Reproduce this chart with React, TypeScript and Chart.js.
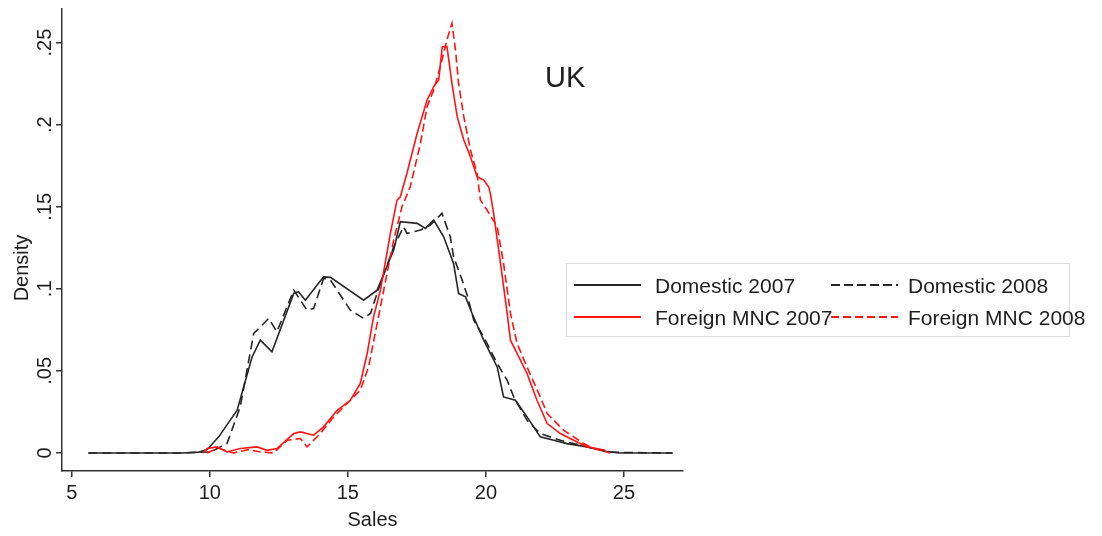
import React, { useEffect, useRef } from 'react';
import { Chart, registerables } from 'chart.js';

Chart.register(...registerables);

// ---------- data ----------
const X_TICKS = [5, 10, 15, 20, 25];
const Y_TICKS = [0, 0.05, 0.1, 0.15, 0.2, 0.25];
const Y_TICK_LABELS = ['0', '.05', '.1', '.15', '.2', '.25'];
const X_MIN = 4.645;
const X_MAX = 27.14;
const Y_MIN = -0.011;
const Y_MAX = 0.2705;

const SERIES_NAMES = ['Domestic 2007', 'Domestic 2008', 'Foreign MNC 2007', 'Foreign MNC 2008'];
const X_TITLE = 'Sales';
const Y_TITLE = 'Density';
const PANEL_TITLE = 'UK';

const DOM07_X = [5.6, 7, 8, 9, 9.6, 9.9, 10.32, 10.99, 11.53, 11.83, 12.25, 13.04, 13.21, 13.46, 14.12, 14.37, 15.57, 16.06, 16.66, 16.9, 17.51, 17.81, 18.11, 18.47, 18.83, 19.01, 19.26, 19.5, 19.92, 20.41, 20.64, 21.07, 21.49, 21.97, 22.46, 22.94, 23.67, 24.33, 24.87, 26.76];
const DOM07_Y = [0, 0, 0, 0, 0.0005, 0.002, 0.0098, 0.026, 0.0585, 0.0687, 0.0616, 0.0972, 0.0982, 0.0931, 0.1073, 0.107, 0.0931, 0.0992, 0.1236, 0.1409, 0.1399, 0.1368, 0.1419, 0.1317, 0.1155, 0.0972, 0.0951, 0.085, 0.0687, 0.0524, 0.0341, 0.0321, 0.022, 0.0098, 0.0077, 0.0057, 0.0037, 0.001, 0, 0];

const DOM08_X = [5.6, 7, 8, 9, 10.02, 10.62, 11.1, 11.59, 11.83, 12.13, 12.43, 13.04, 13.52, 13.76, 14.12, 14.37, 15.09, 15.57, 15.82, 16.18, 16.66, 17.02, 17.14, 17.63, 17.99, 18.41, 18.71, 18.83, 19.14, 19.32, 19.56, 19.92, 20.41, 20.77, 21.01, 21.49, 21.97, 22.7, 23.42, 23.91, 24.5, 26.76];
const DOM08_Y = [0, 0, 0, 0, 0.0006, 0.0057, 0.028, 0.0728, 0.0768, 0.082, 0.0738, 0.0992, 0.087, 0.088, 0.1063, 0.1053, 0.087, 0.082, 0.085, 0.1033, 0.1256, 0.1378, 0.1338, 0.1358, 0.1388, 0.146, 0.1317, 0.1195, 0.1053, 0.0962, 0.0809, 0.0707, 0.0545, 0.0443, 0.0341, 0.0199, 0.0118, 0.0077, 0.0047, 0.0027, 0.0004, 0];

const FOR07_X = [9.75, 9.9, 10.26, 10.62, 11.1, 11.71, 12.07, 12.43, 13.04, 13.28, 13.76, 14.12, 14.61, 15.09, 15.45, 15.7, 15.93, 16.18, 16.54, 16.78, 16.9, 17.14, 17.51, 17.87, 18.11, 18.29, 18.42, 18.59, 18.77, 18.96, 19.2, 19.44, 19.68, 19.92, 20.1, 20.16, 20.28, 20.53, 20.77, 20.89, 21.07, 21.49, 21.85, 22.22, 22.7, 23.18, 23.67, 24.33];
const FOR07_Y = [0, 0.0027, 0.0037, 0.0006, 0.0027, 0.0037, 0.0016, 0.0027, 0.0118, 0.0128, 0.0108, 0.0159, 0.026, 0.0321, 0.0423, 0.0606, 0.0829, 0.0992, 0.1338, 0.154, 0.156, 0.1704, 0.1948, 0.2151, 0.2232, 0.2273, 0.2476, 0.2476, 0.2252, 0.2049, 0.1907, 0.1805, 0.1683, 0.1663, 0.1622, 0.1582, 0.146, 0.1155, 0.085, 0.0687, 0.0626, 0.0484, 0.0321, 0.0179, 0.0118, 0.0077, 0.0037, 0.0016];

const FOR08_X = [9.9, 10.3, 10.86, 11.4, 11.83, 12.31, 12.8, 13.28, 13.52, 14.0, 14.49, 14.97, 15.45, 15.75, 15.99, 16.3, 16.66, 16.96, 17.26, 17.63, 17.87, 18.11, 18.35, 18.59, 18.77, 18.9, 19.01, 19.2, 19.44, 19.68, 19.8, 20.04, 20.41, 20.64, 20.89, 21.13, 21.49, 21.97, 22.22, 22.46, 22.82, 23.18, 23.54, 23.91, 24.5];
const FOR08_Y = [0, 0.003, 0, 0.002, 0.0006, 0, 0.0077, 0.0088, 0.0037, 0.0118, 0.022, 0.0301, 0.0382, 0.0524, 0.0728, 0.0992, 0.1297, 0.15, 0.1622, 0.1887, 0.211, 0.2212, 0.2354, 0.2517, 0.2618, 0.2455, 0.2252, 0.2049, 0.1846, 0.1704, 0.1541, 0.148, 0.1378, 0.1155, 0.085, 0.0667, 0.0524, 0.0341, 0.024, 0.0199, 0.0138, 0.0098, 0.0057, 0.0027, 0];

// ---------- style ----------
const FONT = '"Liberation Sans", Arial, sans-serif';
const TEXT = '#1e1e1e';
const AXIS = '#333333';
const BLACK = '#262626';
const RED = '#ff1414';
const BLACK_DASH = [9, 5];
const RED_DASH = [8, 4];

const toPts = (xs: number[], ys: number[]) => xs.map((x, i) => ({ x, y: ys[i] }));

export default function App() {
  const ref = useRef<HTMLCanvasElement>(null);

  useEffect(() => {
    const canvas = ref.current!;
    const yLabelPlugin = {
      id: 'yLabels',
      afterDraw(chart: any) {
        const c = chart.ctx;
        const ys = chart.scales.y;
        const area = chart.chartArea;
        c.save();
        c.fillStyle = TEXT;
        c.font = `20px ${FONT}`;
        c.textAlign = 'center';
        c.textBaseline = 'middle';
        Y_TICKS.forEach((v, i) => {
          const py = ys.getPixelForValue(v);
          c.save();
          c.translate(ys.right - 17, py);
          c.rotate(-Math.PI / 2);
          c.fillText(Y_TICK_LABELS[i], 0, 0);
          c.restore();
        });
        c.save();
        c.translate(ys.left + 22, (area.top + area.bottom) / 2 + 28);
        c.rotate(-Math.PI / 2);
        c.fillText(Y_TITLE, 0, 0);
        c.restore();
        c.restore();
      },
    };

    const common = { pointRadius: 0, tension: 0, fill: false, borderWidth: 1.6 };
    const chart = new Chart(canvas, {
      type: 'line',
      data: {
        datasets: [
          { ...common, label: SERIES_NAMES[3], data: toPts(FOR08_X, FOR08_Y), borderColor: RED, borderDash: RED_DASH, order: 0 },
          { ...common, label: SERIES_NAMES[2], data: toPts(FOR07_X, FOR07_Y), borderColor: RED, order: 1 },
          { ...common, label: SERIES_NAMES[1], data: toPts(DOM08_X, DOM08_Y), borderColor: BLACK, borderDash: BLACK_DASH, order: 2 },
          { ...common, label: SERIES_NAMES[0], data: toPts(DOM07_X, DOM07_Y), borderColor: BLACK, order: 3 },
        ],
      },
      options: {
        animation: false,
        responsive: false,
        maintainAspectRatio: false,
        layout: { padding: { left: 0, top: 9, right: 419, bottom: 0 } },
        plugins: { legend: { display: false }, tooltip: { enabled: false } },
        scales: {
          x: {
            type: 'linear',
            min: X_MIN,
            max: X_MAX,
            afterBuildTicks: (s: any) => { s.ticks = X_TICKS.map((v) => ({ value: v })); },
            afterFit: (s: any) => { s.height = 65; },
            grid: { drawOnChartArea: false, drawTicks: true, tickLength: 6, color: AXIS, lineWidth: 1.5 },
            border: { display: true, color: AXIS, width: 1.5 },
            ticks: { font: { family: FONT, size: 20 }, color: TEXT, padding: 4, maxRotation: 0, autoSkip: false, callback: (v: any) => String(v) },
            title: { display: true, text: X_TITLE, font: { family: FONT, size: 20 }, color: TEXT, padding: { top: 0, bottom: 4 } },
          },
          y: {
            type: 'linear',
            min: Y_MIN,
            max: Y_MAX,
            afterBuildTicks: (s: any) => { s.ticks = Y_TICKS.map((v) => ({ value: v })); },
            afterFit: (s: any) => { s.width = 62; },
            grid: { drawOnChartArea: false, drawTicks: true, tickLength: 6, color: AXIS, lineWidth: 1.5 },
            border: { display: true, color: AXIS, width: 1.5 },
            ticks: { display: false },
            title: { display: false },
          },
        },
      },
      plugins: [yLabelPlugin],
    });
    return () => chart.destroy();
  }, []);

  const legendRows = [
    { y: 285, items: [{ x: 574, name: SERIES_NAMES[0], color: BLACK, dash: undefined as string | undefined }, { x: 831, name: SERIES_NAMES[1], color: BLACK, dash: '9 4' }] },
    { y: 317, items: [{ x: 574, name: SERIES_NAMES[2], color: RED, dash: undefined as string | undefined }, { x: 831, name: SERIES_NAMES[3], color: RED, dash: '8 4' }] },
  ];

  return (
    <div style={{ position: 'absolute', left: 0, top: 0, width: 1102, height: 536, background: '#fff' }}>
      <canvas ref={ref} width={1102} height={536} style={{ width: 1102, height: 536, display: 'block' }} />
      <svg width={1102} height={536} style={{ position: 'absolute', left: 0, top: 0, pointerEvents: 'none' }}>
        <text x={545} y={87} fontSize={29} fontFamily={FONT} fill={TEXT}>{PANEL_TITLE}</text>
        <rect x={566.5} y={263.5} width={503} height={73} fill="none" stroke="#dddddd" strokeWidth={1} />
        {legendRows.map((row, ri) =>
          row.items.map((it, ii) => (
            <g key={`${ri}-${ii}`}>
              <line x1={it.x} x2={it.x + 67} y1={row.y} y2={row.y} stroke={it.color} strokeWidth={2} strokeDasharray={it.dash} />
              <text x={it.x + (ii === 0 ? 81 : 77)} y={row.y + 7.5} fontSize={21} fontFamily={FONT} fill={TEXT}>{it.name}</text>
            </g>
          ))
        )}
      </svg>
    </div>
  );
}
